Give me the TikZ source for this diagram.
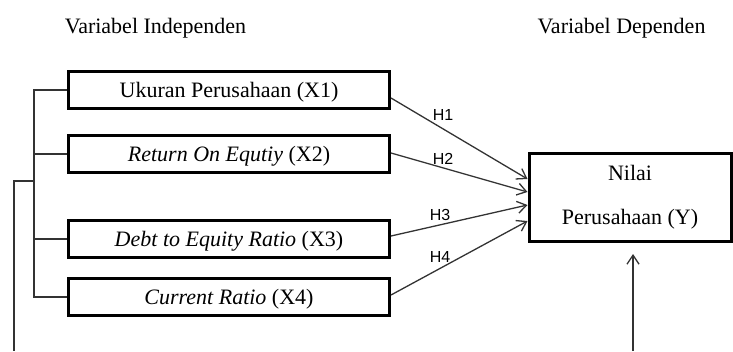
\documentclass[tikz,border=0pt]{standalone}
\usepackage{fontspec}
\setmainfont{Liberation Serif}
\newfontfamily\hfont{Liberation Sans}
\usetikzlibrary{arrows.meta,calc}
\begin{document}
\begin{tikzpicture}[x=1pt,y=-1pt,
  varbox/.style={draw=black,line width=3pt,minimum width=321pt,minimum height=37pt,inner sep=0pt,
    font=\fontsize{22}{26}\selectfont,text height=15pt,text depth=0pt},
  ybox/.style={draw=black,line width=3pt,minimum width=202pt,minimum height=88pt,inner sep=0pt,
    font=\fontsize{22}{26}\selectfont,align=center},
  head/.style={font=\fontsize{22}{26}\selectfont,anchor=base,inner sep=0pt},
  hlab/.style={font=\hfont\fontsize{16}{18}\selectfont,inner sep=0pt},
  conn/.style={line width=1.3pt,draw=black!80},
  arr/.style={conn,-{Straight Barb[length=9pt,width=12pt,line width=1.3pt]}}]
\useasboundingbox (0,0) rectangle (733,351);
\node[head] (hi) at (155.5,33) {Variabel Independen};
\node[head] (hd) at (621.5,33) {Variabel Dependen};
\node[varbox] (X1) at (229,90) {Ukuran Perusahaan (X1)};
\node[varbox] (X2) at (229,154) {\textit{Return On Equtiy} (X2)};
\node[varbox] (X3) at (229,239) {\textit{Debt to Equity Ratio} (X3)};
\node[varbox] (X4) at (229,297) {\textit{Current Ratio} (X4)};
\node[ybox] (Y) at (630,197.5) {Nilai\\[18pt]Perusahaan (Y)};
% bracket
\draw[conn] (X1.west) -- ++(-33,0) |- (X4.west);
\draw[conn] (X2.west) -- ++(-33,0);
\draw[conn] (X3.west) -- ++(-33,0);
\coordinate (oa) at (35,181);
\coordinate (ob) at (14,351);
\draw[conn] (oa) -| (ob);
% hypotheses arrows
\draw[arr] ([yshift=-8pt]X1.east) -- ([yshift=18.5pt]Y.west);
\draw[arr] ([yshift=1pt]X2.east) -- ([yshift=5.5pt]Y.west);
\draw[arr] ([yshift=3pt]X3.east) -- ([yshift=-7.5pt]Y.west);
\draw[arr] ([yshift=2pt]X4.east) -- ([yshift=-23.5pt]Y.west);
\node[hlab] (h1) at (443,115) {H1};
\node[hlab] (h2) at (443,159) {H2};
\node[hlab] (h3) at (440,215) {H3};
\node[hlab] (h4) at (440,257) {H4};
% bottom arrow
\coordinate (yb) at (633,351);
\draw[arr] (yb) -- ($(Y.south -| yb)+(0,11)$);
\end{tikzpicture}
\end{document}
